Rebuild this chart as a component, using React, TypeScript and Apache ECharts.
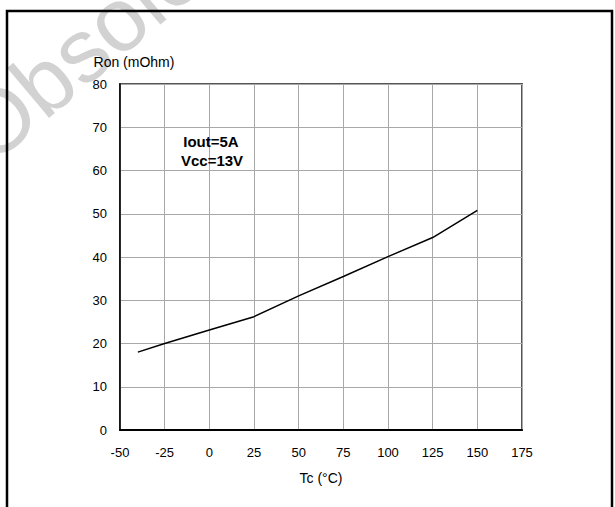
import React, { useEffect, useRef } from "react";
import * as echarts from "echarts";

const tempC = [-40, -25, 0, 25, 50, 75, 100, 125, 150];
const ronMOhm = [18.0, 20.0, 23.1, 26.2, 31.0, 35.5, 40.1, 44.5, 50.8];
const xTicks = { min: -50, max: 175, interval: 25 };
const yTicks = { min: 0, max: 80, interval: 10 };
const noteLines = ["Iout=5A", "Vcc=13V"];
const xName = "Tc (°C)";
const yName = "Ron (mOhm)";
const watermark = "Obsolete";

const FONT = "'Liberation Sans', Arial, sans-serif";

export default function App() {
  const ref = useRef<HTMLDivElement>(null);
  useEffect(() => {
    if (!ref.current) return;
    const chart = echarts.init(ref.current, undefined, { renderer: "svg" });
    const data = tempC.map((t, i) => [t, ronMOhm[i]]);
    chart.setOption({
      animation: false,
      backgroundColor: "#fff",
      textStyle: { fontFamily: FONT },
      grid: {
        left: 120,
        top: 84,
        width: 402,
        height: 346,
        show: true,
        borderColor: "#555",
        borderWidth: 2,
        backgroundColor: "transparent",
      },
      xAxis: {
        type: "value",
        min: xTicks.min,
        max: xTicks.max,
        interval: xTicks.interval,
        name: xName,
        nameLocation: "middle",
        nameGap: 41,
        nameTextStyle: { fontSize: 14, color: "#000", fontFamily: FONT },
        axisLine: { show: true, onZero: false, lineStyle: { color: "#000", width: 2 } },
        axisTick: { show: false },
        axisLabel: { fontSize: 13, color: "#000", margin: 16, fontFamily: FONT },
        splitLine: { show: true, lineStyle: { color: "#a8a8a8", width: 1 } },
      },
      yAxis: {
        type: "value",
        min: yTicks.min,
        max: yTicks.max,
        interval: yTicks.interval,
        name: yName,
        nameLocation: "end",
        nameGap: 15,
        nameTextStyle: {
          fontSize: 14,
          color: "#000",
          fontFamily: FONT,
          align: "center",
          padding: [0, 0, 0, 28],
        },
        axisLine: { show: true, onZero: false, lineStyle: { color: "#000", width: 1.5 } },
        axisTick: { show: false },
        axisLabel: { fontSize: 13, color: "#000", margin: 13, fontFamily: FONT },
        splitLine: { show: true, lineStyle: { color: "#a8a8a8", width: 1 } },
      },
      series: [
        {
          type: "line",
          data,
          symbol: "none",
          lineStyle: { color: "#000", width: 1.5 },
          z: 5,
        },
      ],
      graphic: [
        {
          type: "text",
          x: -29,
          y: 143,
          rotation: (40 * Math.PI) / 180,
          style: {
            text: watermark,
            fill: "#d2d2d2",
            fontSize: 90,
            fontFamily: FONT,
            textAlign: "left",
            textVerticalAlign: "middle",
          },
          silent: true,
          z: -1,
        },
        {
          type: "rect",
          shape: { x: 7, y: 11, width: 605, height: 530 },
          style: { fill: "none", stroke: "#000", lineWidth: 2.5 },
          silent: true,
          z: 10,
        },
        {
          type: "text",
          x: 211,
          y: 141,
          style: {
            text: noteLines[0],
            fill: "#000",
            font: `bold 15px ${FONT}`,
            textAlign: "center",
            textVerticalAlign: "middle",
          },
          z: 30,
        },
        {
          type: "text",
          x: 212,
          y: 160,
          style: {
            text: noteLines[1],
            fill: "#000",
            font: `bold 15px ${FONT}`,
            textAlign: "center",
            textVerticalAlign: "middle",
          },
          z: 30,
        },
      ],
    });
    return () => chart.dispose();
  }, []);
  return (
    <div
      ref={ref}
      style={{ position: "absolute", left: 0, top: 0, width: 615, height: 507 }}
    />
  );
}
